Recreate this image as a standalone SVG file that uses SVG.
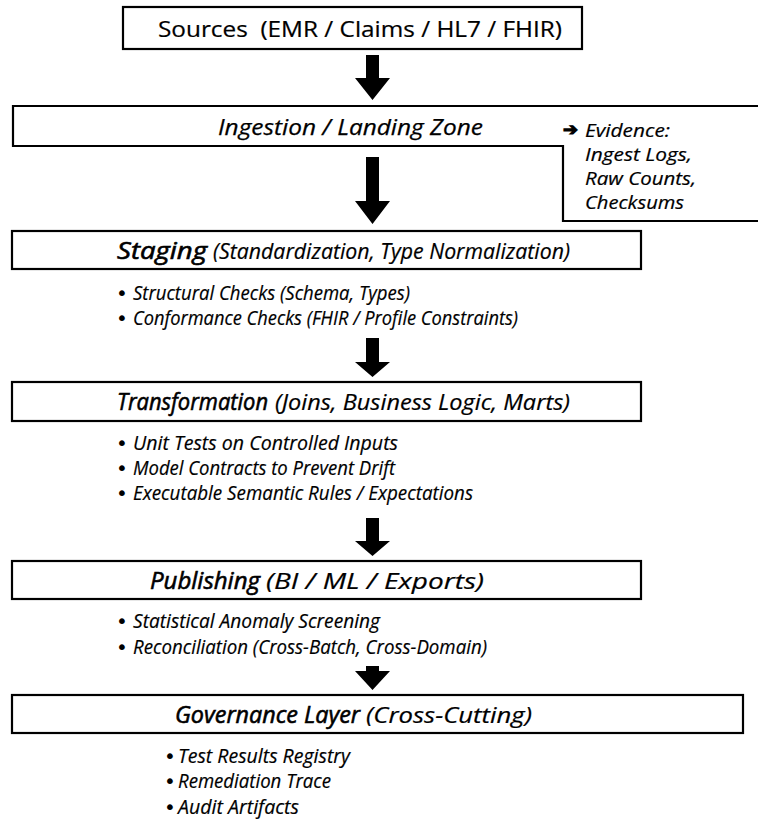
<svg xmlns="http://www.w3.org/2000/svg" width="758" height="823" viewBox="0 0 758 823">
<style>
.box{fill:#fff;stroke:#000;stroke-width:2.2}
.arrow{fill:#000}
text{font-family:"Open Sans","Noto Sans","DejaVu Sans",sans-serif;fill:#000}
.src{font-size:21px;stroke:#000;stroke-width:0.2}
.ing{font-size:22px;font-style:italic;stroke:#000;stroke-width:0.25}
.head{font-size:24px;font-style:italic;stroke:#000;stroke-width:0.6}
.par{font-size:21px;font-style:italic;stroke:#000;stroke-width:0.2}
.bul{font-size:20px;font-style:italic;stroke:#000;stroke-width:0.2}
.dot{font-size:20px;font-family:"DejaVu Sans",sans-serif}
.ev{font-size:17.5px;font-style:italic;stroke:#000;stroke-width:0.2}
.sym{font-family:"DejaVu Sans",sans-serif;font-size:17px;font-weight:bold;stroke:#000;stroke-width:1.2}
</style>
<g id="connectors">
<polygon class="arrow" points="366,55 379,55 379,78 390,78 372.5,100 355,78 366,78"/>
<polygon class="arrow" points="366,157 379,157 379,201 390,201 372.5,224 355,201 366,201"/>
<polygon class="arrow" points="366,338 379,338 379,362 390,362 372.5,377 355,362 366,362"/>
<polygon class="arrow" points="366,518 379,518 379,541 390,541 372.5,556 355,541 366,541"/>
<polygon class="arrow" points="366,666 379,666 379,671 390,671 372.5,690 355,671 366,671"/>
</g>
<g id="sources">
<rect class="box" x="123" y="7" width="459" height="42"/>
<text class="src" x="158" y="37" textLength="404" lengthAdjust="spacingAndGlyphs" xml:space="preserve">Sources  (EMR / Claims / HL7 / FHIR)</text>
</g>
<g id="ingestion">
<polygon class="box" points="13,106 760,106 760,221 563,221 563,146 13,146"/>
<text class="ing" x="218" y="135" textLength="265" lengthAdjust="spacingAndGlyphs">Ingestion / Landing Zone</text>
<text class="sym" x="563" y="135" textLength="15" lengthAdjust="spacingAndGlyphs">➔</text>
<text class="ev" x="585" y="137" textLength="85" lengthAdjust="spacingAndGlyphs">Evidence:</text>
<text class="ev" x="585" y="161" textLength="107" lengthAdjust="spacingAndGlyphs">Ingest Logs,</text>
<text class="ev" x="585" y="185" textLength="111" lengthAdjust="spacingAndGlyphs">Raw Counts,</text>
<text class="ev" x="585" y="209" textLength="99" lengthAdjust="spacingAndGlyphs">Checksums</text>
</g>
<g id="staging">
<rect class="box" x="12" y="231" width="629" height="38"/>
<text class="head" x="117" y="259" textLength="90" lengthAdjust="spacingAndGlyphs">Staging</text>
<text class="par" x="213" y="259" textLength="357" lengthAdjust="spacingAndGlyphs">(Standardization, Type Normalization)</text>
<text class="dot" x="116" y="300">•</text>
<text class="bul" x="133" y="300" textLength="277" lengthAdjust="spacingAndGlyphs">Structural Checks (Schema, Types)</text>
<text class="dot" x="116" y="325">•</text>
<text class="bul" x="133" y="325" textLength="385" lengthAdjust="spacingAndGlyphs">Conformance Checks (FHIR / Profile Constraints)</text>
</g>
<g id="transformation">
<rect class="box" x="12" y="382" width="629" height="39"/>
<text class="head" x="117" y="410" textLength="151" lengthAdjust="spacingAndGlyphs">Transformation</text>
<text class="par" x="275" y="410" textLength="295" lengthAdjust="spacingAndGlyphs">(Joins, Business Logic, Marts)</text>
<text class="dot" x="116" y="450">•</text>
<text class="bul" x="133" y="450" textLength="265" lengthAdjust="spacingAndGlyphs">Unit Tests on Controlled Inputs</text>
<text class="dot" x="116" y="475">•</text>
<text class="bul" x="133" y="475" textLength="262" lengthAdjust="spacingAndGlyphs">Model Contracts to Prevent Drift</text>
<text class="dot" x="116" y="500">•</text>
<text class="bul" x="133" y="500" textLength="340" lengthAdjust="spacingAndGlyphs">Executable Semantic Rules / Expectations</text>
</g>
<g id="publishing">
<rect class="box" x="12" y="561" width="629" height="38"/>
<text class="head" x="150" y="589" textLength="110" lengthAdjust="spacingAndGlyphs">Publishing</text>
<text class="par" x="266" y="589" textLength="218" lengthAdjust="spacingAndGlyphs">(BI / ML / Exports)</text>
<text class="dot" x="116" y="628">•</text>
<text class="bul" x="133" y="628" textLength="247" lengthAdjust="spacingAndGlyphs">Statistical Anomaly Screening</text>
<text class="dot" x="116" y="654">•</text>
<text class="bul" x="133" y="654" textLength="354" lengthAdjust="spacingAndGlyphs">Reconciliation (Cross-Batch, Cross-Domain)</text>
</g>
<g id="governance">
<rect class="box" x="12" y="695" width="731" height="38"/>
<text class="head" x="175" y="723" textLength="185" lengthAdjust="spacingAndGlyphs">Governance Layer</text>
<text class="par" x="366" y="723" textLength="166" lengthAdjust="spacingAndGlyphs">(Cross-Cutting)</text>
<text class="dot" x="164" y="763">•</text>
<text class="bul" x="178" y="763" textLength="172" lengthAdjust="spacingAndGlyphs">Test Results Registry</text>
<text class="dot" x="164" y="788">•</text>
<text class="bul" x="178" y="788" textLength="153" lengthAdjust="spacingAndGlyphs">Remediation Trace</text>
<text class="dot" x="164" y="814">•</text>
<text class="bul" x="178" y="814" textLength="121" lengthAdjust="spacingAndGlyphs">Audit Artifacts</text>
</g>
</svg>
